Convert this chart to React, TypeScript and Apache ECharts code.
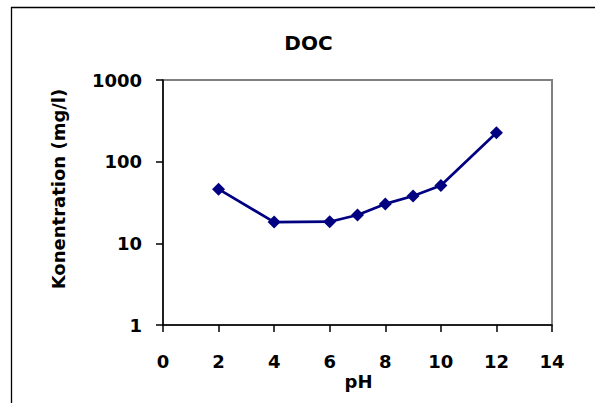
import React, { useEffect, useRef } from "react";
import * as echarts from "echarts";

const pH = [2, 4, 6, 7, 8, 9, 10, 12];
const doc = [46, 18.2, 18.4, 22.2, 30.4, 38, 51, 226];
const xTicks = { min: 0, max: 14, interval: 2 };
const yRange = { min: 1, max: 1000 };
const titleText = "DOC";
const xName = "pH";
const yName = "Konentration (mg/l)";

const FONT = "DejaVu Sans";

export default function App() {
  const ref = useRef<HTMLDivElement>(null);
  useEffect(() => {
    if (!ref.current) return;
    const chart = echarts.init(ref.current, undefined, { renderer: "svg" });
    chart.setOption({
      animation: false,
      backgroundColor: "#ffffff",
      grid: {
        left: 163,
        right: 43,
        top: 80,
        bottom: 78,
        show: true,
        borderColor: "#808080",
        borderWidth: 2,
        backgroundColor: "transparent",
      },
      xAxis: {
        type: "value",
        min: xTicks.min,
        max: xTicks.max,
        interval: xTicks.interval,
        splitLine: { show: false },
        axisLine: { show: true, onZero: false, lineStyle: { color: "#000", width: 1.5 } },
        axisTick: { show: true, inside: false, length: 7, lineStyle: { color: "#000", width: 1.5 } },
        axisLabel: {
          margin: 27,
          color: "#000",
          fontFamily: FONT,
          fontWeight: "bold",
          fontSize: 18,
        },
      },
      yAxis: {
        type: "log",
        logBase: 10,
        min: yRange.min,
        max: yRange.max,
        splitLine: { show: false },
        minorTick: { show: false },
        axisLine: { show: true, lineStyle: { color: "#000", width: 1.5 } },
        axisTick: { show: true, inside: false, length: 7, lineStyle: { color: "#000", width: 1.5 } },
        axisLabel: {
          margin: 21,
          color: "#000",
          fontFamily: FONT,
          fontWeight: "bold",
          fontSize: 18,
          formatter: (v: number) => String(Math.round(v)),
        },
      },
      graphic: [
        {
          type: "rect",
          shape: { x: 11.5, y: 7.5, width: 700, height: 500 },
          style: { fill: "none", stroke: "#000", lineWidth: 1.3 },
          silent: true,
          z: -1,
        },
        {
          type: "text",
          x: 308.5,
          y: 43,
          style: {
            text: titleText,
            fill: "#000",
            font: `bold 20px '${FONT}'`,
            textAlign: "center",
            textVerticalAlign: "middle",
          },
        },
        {
          type: "text",
          x: 358.5,
          y: 381,
          style: {
            text: xName,
            fill: "#000",
            font: `bold 18px '${FONT}'`,
            textAlign: "center",
            textVerticalAlign: "middle",
          },
        },
        {
          type: "text",
          x: 58.5,
          y: 189,
          rotation: Math.PI / 2,
          style: {
            text: yName,
            fill: "#000",
            font: `bold 18px '${FONT}'`,
            textAlign: "center",
            textVerticalAlign: "middle",
          },
        },
      ],
      series: [
        {
          type: "line",
          data: pH.map((x, i) => [x, doc[i]]),
          symbol: "diamond",
          symbolSize: 13,
          showSymbol: true,
          itemStyle: { color: "#000080" },
          lineStyle: { color: "#000080", width: 2.7 },
        },
      ],
    });
    return () => chart.dispose();
  }, []);
  return (
    <div
      ref={ref}
      style={{ position: "fixed", left: 0, top: 0, width: 595, height: 403, background: "#fff" }}
    />
  );
}
